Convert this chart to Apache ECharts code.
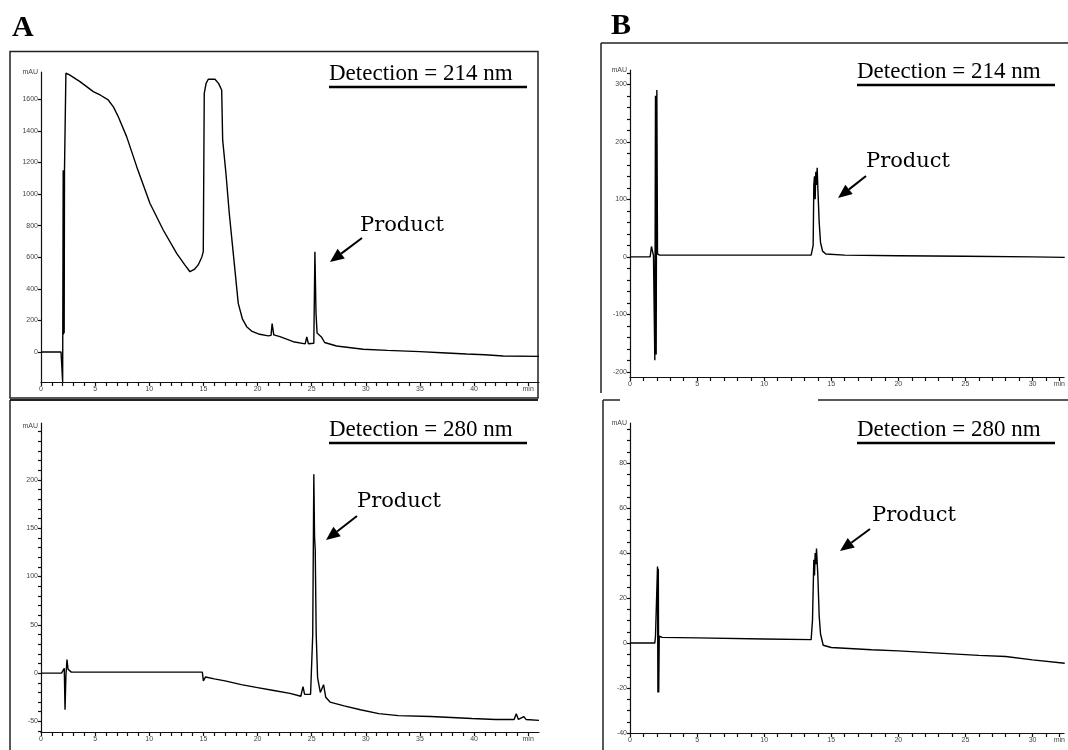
<!DOCTYPE html>
<html>
<head>
<meta charset="utf-8">
<script src="https://cdn.jsdelivr.net/npm/echarts@6/dist/echarts.min.js"></script>
<style>
html, body { margin: 0; padding: 0; background: #fff; }
#chart { width: 1068px; height: 750px; }
</style>
</head>
<body>
<div id="chart"></div>
<script>
// [retention time (min), absorbance (mAU)]
const traceA214 = [
  [0, 0], [1.85, 0], [1.95, -5], [2.0, -190], [2.05, 1150], [2.08, 110], [2.11, 1150], [2.14, 120],
  [2.17, 1150], [2.3, 1764], [2.6, 1755], [3.6, 1711], [4.83, 1648], [5.5, 1625], [6.21, 1595],
  [6.7, 1550], [7.14, 1489], [7.91, 1363], [8.84, 1173], [10.06, 941], [11.29, 772], [12.53, 624],
  [13.3, 550], [13.76, 508], [14.2, 525], [14.52, 551], [14.85, 600], [14.99, 635], [15.08, 1637],
  [15.25, 1700], [15.45, 1726], [16.07, 1726], [16.4, 1700], [16.69, 1658], [16.78, 1342],
  [17.08, 1133], [17.39, 878], [17.76, 624], [18.22, 308], [18.6, 210], [19.0, 160], [19.5, 130],
  [20.2, 112], [21.0, 102], [21.25, 105], [21.35, 180], [21.5, 108], [22.07, 97], [23.3, 65],
  [24.4, 51], [24.55, 95], [24.7, 52], [25.2, 55], [25.3, 635], [25.4, 250], [25.5, 120],
  [25.6, 118], [25.9, 95], [26.07, 105], [26.2, 60], [26.38, 55], [27.3, 38], [29.76, 17],
  [32, 10], [35, 2], [37, -5], [39.3, -13], [41, -18], [42.7, -25], [46, -28]
]
const traceA280 = [
  [0, 0], [1.9, 0], [2.05, -2], [2.15, 5], [2.22, -38], [2.3, -3], [2.4, 14], [2.5, 4], [2.8, 1],
  [5, 1], [10, 1], [14.9, 1], [15.0, -8], [15.2, -4], [16, -6], [17, -8], [18.5, -12], [20, -15],
  [21.5, -18], [23, -21], [24, -24], [24.2, -14], [24.35, -22], [24.9, -22], [25.1, 40],
  [25.2, 206], [25.27, 140], [25.33, 128], [25.42, 40], [25.55, -5], [25.8, -20], [26.1, -12],
  [26.3, -25], [26.7, -30], [28, -34], [29.5, -38], [31.2, -42], [33, -44], [36, -45],
  [39.8, -47], [42, -48], [43.7, -48], [43.9, -42], [44.1, -48], [44.6, -45], [44.8, -48], [46, -49]
]
const traceB214 = [
  [0, 0], [1.5, 0], [1.6, 18], [1.75, 2], [1.85, -180], [1.9, 280], [1.95, -170], [2.0, 290],
  [2.05, 5], [2.2, 3], [5, 3], [10, 3], [13.5, 3], [13.65, 20], [13.7, 125], [13.75, 140],
  [13.8, 100], [13.85, 148], [13.9, 125], [13.95, 155], [14.0, 120], [14.1, 60], [14.2, 25],
  [14.35, 10], [14.6, 5], [16, 3], [20, 2], [25, 1], [30, 0], [32.4, -1]
]
const traceB280 = [
  [0, 0], [1.85, 0], [1.9, 3], [2.0, 3], [2.05, 34], [2.08, -22], [2.11, 33], [2.14, -22],
  [2.18, 3], [2.4, 2.5], [5, 2.3], [10, 1.8], [13.5, 1.5], [13.6, 10], [13.7, 37], [13.75, 30],
  [13.8, 40], [13.85, 35], [13.9, 42], [13.95, 36], [14.0, 30], [14.1, 12], [14.2, 4], [14.4, -1],
  [15, -2], [18, -3], [20, -3.5], [23, -4.5], [26, -5.5], [28, -6], [30, -7.5], [32.4, -9]
]

// tick labels
const labelsAX = [0, 5, 10, 15, 20, 25, 30, 35, 40, 45]
const labelsBX = [0, 5, 10, 15, 20, 25, 30, 32]
const labelsA214Y = [0, 200, 400, 600, 800, 1000, 1200, 1400, 1600]
const labelsA280Y = [-50, 0, 50, 100, 150, 200]
const labelsB214Y = [-200, -100, 0, 100, 200, 300]
const labelsB280Y = [-40, -20, 0, 20, 40, 60, 80]

const range = (a, b, s) => { const r = []; for (let v = a; v <= b; v += s) r.push(v); return r }

const axisText = { fontSize: 7, color: '#444', fontFamily: 'Liberation Sans' }
const dark = { color: '#111', width: 1.2 }

function xAxisOf(grid, max, ticks, labels) {
  const last = labels[labels.length - 1]
  return {
    type: 'value', gridIndex: grid, min: 0, max: max,
    axisLine: { show: true, onZero: false, lineStyle: dark },
    axisTick: { show: true, customValues: ticks, length: 4, lineStyle: dark },
    axisLabel: { customValues: labels, margin: 4, ...axisText, formatter: v => (v === last ? 'min' : String(v)) },
    splitLine: { show: false }
  }
}
function yAxisOf(grid, min, max, ticks, labels) {
  return {
    type: 'value', gridIndex: grid, min: min, max: max,
    axisLine: { show: true, onZero: false, lineStyle: dark },
    axisTick: { show: true, customValues: ticks, length: 3, lineStyle: dark },
    axisLabel: { customValues: labels, margin: 3, ...axisText, formatter: v => String(v) },
    splitLine: { show: false }
  }
}
function trace(data, i) {
  return {
    type: 'line', xAxisIndex: i, yAxisIndex: i, data: data, symbol: 'none',
    lineStyle: { color: '#000', width: 1.4 }, animation: false
  }
}

// annotations
const serif = '"Liberation Serif", "DejaVu Serif", serif'
function heading(x, y, txt) {
  return [
    { type: 'text', x: x, y: y, style: { text: txt, font: '23px ' + serif, fill: '#000', textVerticalAlign: 'middle' } },
    { type: 'line', shape: { x1: x, y1: y + 13, x2: x + 198, y2: y + 13 }, style: { stroke: '#000', lineWidth: 2.5 } }
  ]
}
function product(x, y) {
  return { type: 'text', x: x, y: y, style: { text: 'Product', font: '21px "DejaVu Serif", serif', fill: '#000', textVerticalAlign: 'middle' } }
}
function arrow(x1, y1, x2, y2) {
  const dx = x2 - x1, dy = y2 - y1, len = Math.hypot(dx, dy)
  const ux = dx / len, uy = dy / len
  const bx = x2 - ux * 14, by = y2 - uy * 14, nx = -uy * 6, ny = ux * 6
  return [
    { type: 'line', shape: { x1: x1, y1: y1, x2: bx, y2: by }, style: { stroke: '#000', lineWidth: 2 } },
    { type: 'polygon', shape: { points: [[x2, y2], [bx + nx, by + ny], [bx - nx, by - ny]] }, style: { fill: '#000' } }
  ]
}
function unit(x, y) {
  return { type: 'text', x: x, y: y, style: { text: 'mAU', font: '7px "Liberation Sans"', fill: '#444', textAlign: 'right', textVerticalAlign: 'middle' } }
}
const frame = { stroke: '#222', lineWidth: 1.5, fill: 'none' }

const graphics = [
  { type: 'text', x: 12, y: 28, style: { text: 'A', font: 'bold 30px ' + serif, fill: '#000', textVerticalAlign: 'middle' } },
  { type: 'text', x: 611, y: 26, style: { text: 'B', font: 'bold 30px ' + serif, fill: '#000', textVerticalAlign: 'middle' } },
  { type: 'rect', shape: { x: 10, y: 51.5, width: 528, height: 346.5 }, style: frame },
  { type: 'line', shape: { x1: 10, y1: 400, x2: 538, y2: 400 }, style: { stroke: '#222', lineWidth: 2 } },
  { type: 'line', shape: { x1: 10, y1: 400, x2: 10, y2: 752 }, style: frame },
  { type: 'line', shape: { x1: 601, y1: 43, x2: 1070, y2: 43 }, style: frame },
  { type: 'line', shape: { x1: 601, y1: 43, x2: 601, y2: 393 }, style: frame },
  { type: 'line', shape: { x1: 603, y1: 400, x2: 620, y2: 400 }, style: frame },
  { type: 'line', shape: { x1: 818, y1: 400, x2: 1070, y2: 400 }, style: frame },
  { type: 'line', shape: { x1: 603, y1: 400, x2: 603, y2: 752 }, style: frame },
  ...heading(329, 74, 'Detection = 214 nm'),
  ...heading(329, 430, 'Detection = 280 nm'),
  ...heading(857, 72, 'Detection = 214 nm'),
  ...heading(857, 430, 'Detection = 280 nm'),
  product(360, 226), ...arrow(362, 238, 330, 262),
  product(357, 502), ...arrow(357, 516, 326, 540),
  product(866, 162), ...arrow(866, 176, 838, 198),
  product(872, 516), ...arrow(870, 529, 840, 551),
  unit(38, 72), unit(38, 426), unit(627, 70), unit(627, 423)
]

const chart = echarts.init(document.getElementById('chart'), null, { renderer: 'canvas' })
chart.setOption({
  animation: false,
  backgroundColor: '#fff',
  grid: [
    { left: 41, top: 72, width: 498, height: 310 },
    { left: 41, top: 423, width: 498, height: 309 },
    { left: 630, top: 70, width: 440, height: 307 },
    { left: 630, top: 423, width: 440, height: 310 }
  ],
  xAxis: [
    xAxisOf(0, 46, range(0, 45, 1), labelsAX),
    xAxisOf(1, 46, range(0, 45, 1), labelsAX),
    xAxisOf(2, 32.35, range(0, 32, 1), labelsBX),
    xAxisOf(3, 32.35, range(0, 32, 1), labelsBX)
  ],
  yAxis: [
    yAxisOf(0, -190, 1772, labelsA214Y, labelsA214Y),
    yAxisOf(1, -61, 259, range(-60, 250, 10), labelsA280Y),
    yAxisOf(2, -209, 325, range(-200, 320, 20), labelsB214Y),
    yAxisOf(3, -40, 97.8, range(-40, 95, 5), labelsB280Y)
  ],
  series: [
    trace(traceA214, 0),
    trace(traceA280, 1),
    trace(traceB214, 2),
    trace(traceB280, 3)
  ],
  graphic: graphics
})
</script>
</body>
</html>
